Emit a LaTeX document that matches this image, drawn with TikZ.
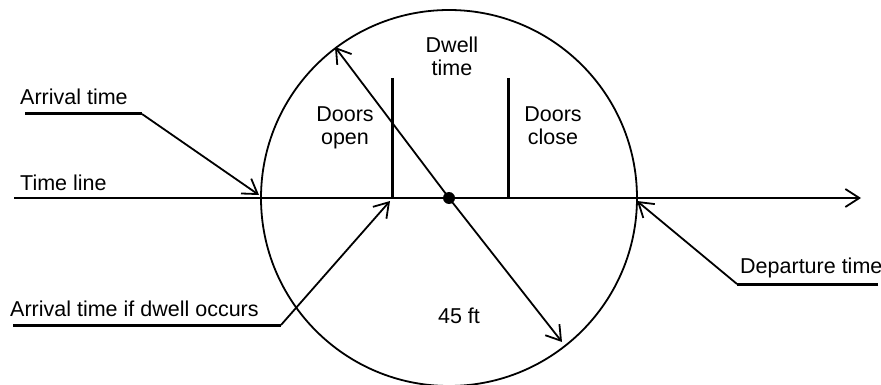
\documentclass[tikz,border=0pt]{standalone}
\usepackage{fontspec}
\setmainfont{Liberation Sans}
\usetikzlibrary{arrows.meta}
\begin{document}
\begin{tikzpicture}[x=1pt,y=-1pt,
  lbl/.style={inner sep=0pt,font=\fontsize{21.5}{23}\selectfont},
  thin/.style={line width=1.8pt},
  thick3/.style={line width=3pt},
  barb/.style={-{Straight Barb[length=14pt,width=18pt,line width=1.8pt]}},
  lbl2/.style={lbl,align=center,anchor=base}]
\useasboundingbox (0,0) rectangle (881,385);
\coordinate (c) at (449,198);
% circle
\draw[thin] (c) circle[radius=188];
% time line
\coordinate (tl0) at (14,198);
\coordinate (tl1) at (861,198);
\draw[thin,barb] (tl0) -- (tl1);
% door bars
\coordinate (b1t) at (392,78); \coordinate (b1b) at (392,198);
\coordinate (b2t) at (508,78); \coordinate (b2b) at (508,198);
\draw[thick3] (b1t) -- (b1b);
\draw[thick3] (b2t) -- (b2b);
% diameter
\coordinate (d1) at (335,47);
\coordinate (d2) at (562,342);
\draw[thin,barb] (c) -- (d1);
\draw[thin,barb] (c) -- (d2);
\fill (c) circle[radius=6];
% texts
\node[lbl,anchor=base west] (tline) at (20,190) {Time line};
\node[lbl,anchor=base west] (arr) at (20,105) {Arrival time};
\node[lbl,anchor=base west] (arrd) at (10,316) {Arrival time if dwell occurs};
\node[lbl,anchor=base west] (dep) at (740,273) {Departure time};
\node[lbl2] (dwell) at (452,76) {Dwell\\time};
\node[lbl2] (dopen) at (345,145) {Doors\\open};
\node[lbl2] (dclose) at (553,145) {Doors\\close};
\node[lbl,anchor=base] (ft) at (459,323) {45 ft};
% leaders
\coordinate (a0) at (25,114); \coordinate (a1) at (142,114); \coordinate (a2) at (259,195);
\draw[thick3] (a0) -- (a1);
\draw[thin,barb] (a1) -- (a2);
\coordinate (e0) at (13,325); \coordinate (e1) at (281,325); \coordinate (e2) at (390,201);
\draw[thick3] (e0) -- (e1);
\draw[thin,barb] (e1) -- (e2);
\coordinate (f0) at (878,284); \coordinate (f1) at (737,284); \coordinate (f2) at (637,201);
\draw[thick3] (f0) -- (f1);
\draw[thin,barb] (f1) -- (f2);
\end{tikzpicture}
\end{document}
